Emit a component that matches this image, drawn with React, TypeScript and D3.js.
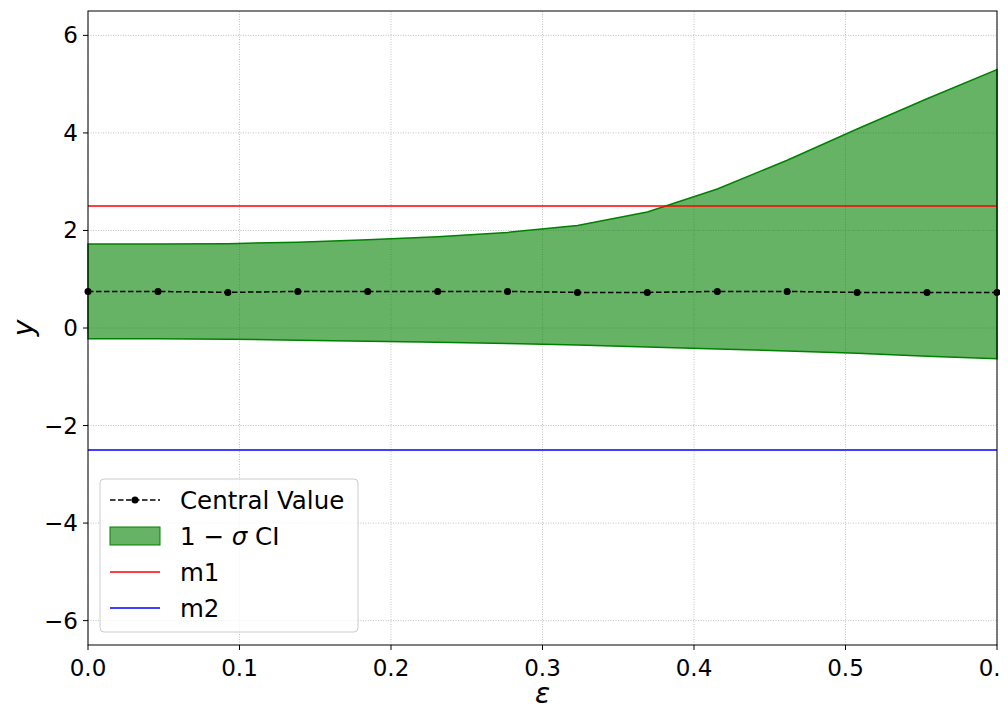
import { useEffect, useRef } from 'react'
import * as d3 from 'd3'

const xs = [0, 0.0462, 0.0923, 0.1385, 0.1846, 0.2308, 0.2769, 0.3231, 0.3692, 0.4154, 0.4615, 0.5077, 0.5538, 0.6]
const central = [0.75, 0.75, 0.73, 0.75, 0.75, 0.75, 0.75, 0.73, 0.73, 0.75, 0.75, 0.73, 0.73, 0.73]
const upper = [1.72, 1.72, 1.73, 1.76, 1.81, 1.87, 1.96, 2.1, 2.38, 2.85, 3.44, 4.08, 4.7, 5.3]
const lower = [-0.22, -0.22, -0.23, -0.25, -0.27, -0.29, -0.32, -0.35, -0.39, -0.43, -0.47, -0.52, -0.58, -0.63]
const xTicks = [0, 0.1, 0.2, 0.3, 0.4, 0.5, 0.6]
const yTicks = [-6, -4, -2, 0, 2, 4, 6]
const m1 = 2.5
const m2 = -2.5

export default function App() {
  const ref = useRef<SVGSVGElement>(null)

  useEffect(() => {
    if (!ref.current) return
    const svg = d3.select(ref.current)
    svg.selectAll('*').remove()
    const margin = { left: 88, top: 11, right: 11, bottom: 75 }
    const W = 1008, H = 720
    const x = d3.scaleLinear().domain([0, 0.6]).range([margin.left, W - margin.right])
    const y = d3.scaleLinear().domain([-6.5, 6.5]).range([H - margin.bottom, margin.top])
    const font = 'DejaVu Sans'

    const g = svg.append('g')
    // grid
    xTicks.forEach(t => g.append('line').attr('x1', x(t)).attr('x2', x(t)).attr('y1', y(-6.5)).attr('y2', y(6.5))
      .attr('stroke', '#b0b0b0').attr('stroke-width', 0.8).attr('stroke-dasharray', '1,1.5'))
    yTicks.forEach(t => g.append('line').attr('y1', y(t)).attr('y2', y(t)).attr('x1', x(0)).attr('x2', x(0.6))
      .attr('stroke', '#b0b0b0').attr('stroke-width', 0.8).attr('stroke-dasharray', '1,1.5'))

    const idx = d3.range(xs.length)
    const area = d3.area<number>().x(i => x(xs[i])).y0(i => y(lower[i])).y1(i => y(upper[i]))
    g.append('path').attr('d', area(idx)).attr('fill', 'green').attr('fill-opacity', 0.6)
      .attr('stroke', 'green').attr('stroke-width', 1.5)

    g.append('line').attr('x1', x(0)).attr('x2', x(0.6)).attr('y1', y(m1)).attr('y2', y(m1)).attr('stroke', 'red').attr('stroke-width', 1.5)
    g.append('line').attr('x1', x(0)).attr('x2', x(0.6)).attr('y1', y(m2)).attr('y2', y(m2)).attr('stroke', 'blue').attr('stroke-width', 1.5)

    const line = d3.line<number>().x(i => x(xs[i])).y(i => y(central[i]))
    g.append('path').attr('d', line(idx)).attr('fill', 'none').attr('stroke', 'black').attr('stroke-width', 1.5).attr('stroke-dasharray', '5.5,2.5')
    g.selectAll('circle.c').data(idx).enter().append('circle').attr('cx', i => x(xs[i])).attr('cy', i => y(central[i])).attr('r', 3.5).attr('fill', 'black')

    // frame
    g.append('rect').attr('x', x(0)).attr('y', y(6.5)).attr('width', x(0.6) - x(0)).attr('height', y(-6.5) - y(6.5))
      .attr('fill', 'none').attr('stroke', 'black').attr('stroke-width', 1)

    xTicks.forEach(t => {
      g.append('line').attr('x1', x(t)).attr('x2', x(t)).attr('y1', y(-6.5)).attr('y2', y(-6.5) + 5).attr('stroke', 'black')
      g.append('text').attr('x', x(t)).attr('y', y(-6.5) + 31).attr('text-anchor', 'middle').attr('font-family', font).attr('font-size', 23).text(d3.format('.1f')(t))
    })
    yTicks.forEach(t => {
      g.append('line').attr('x1', x(0) - 5).attr('x2', x(0)).attr('y1', y(t)).attr('y2', y(t)).attr('stroke', 'black')
      g.append('text').attr('x', x(0) - 10).attr('y', y(t) + 8).attr('text-anchor', 'end').attr('font-family', font).attr('font-size', 23).text(t < 0 ? `\u2212${-t}` : `${t}`)
    })
    g.append('text').attr('x', x(0.3)).attr('y', 703).attr('text-anchor', 'middle').attr('font-family', font).attr('font-style', 'italic').attr('font-size', 28).text('ε')
    g.append('text').attr('transform', `translate(33,${y(0)}) rotate(-90)`).attr('text-anchor', 'middle').attr('font-family', font).attr('font-style', 'italic').attr('font-size', 28).text('y')

    // legend
    const lg = g.append('g').attr('transform', 'translate(100,479)')
    lg.append('rect').attr('width', 258).attr('height', 153).attr('rx', 4).attr('fill', 'white').attr('fill-opacity', 0.8).attr('stroke', '#ccc')
    const rows = [21, 57, 93, 129]
    lg.append('line').attr('x1', 10).attr('x2', 60).attr('y1', rows[0]).attr('y2', rows[0]).attr('stroke', 'black').attr('stroke-width', 1.5).attr('stroke-dasharray', '5.5,2.5')
    lg.append('circle').attr('cx', 35).attr('cy', rows[0]).attr('r', 3.5).attr('fill', 'black')
    lg.append('rect').attr('x', 10).attr('y', rows[1] - 9).attr('width', 50).attr('height', 18).attr('fill', 'green').attr('fill-opacity', 0.6).attr('stroke', 'green')
    lg.append('line').attr('x1', 10).attr('x2', 60).attr('y1', rows[2]).attr('y2', rows[2]).attr('stroke', 'red').attr('stroke-width', 1.5)
    lg.append('line').attr('x1', 10).attr('x2', 60).attr('y1', rows[3]).attr('y2', rows[3]).attr('stroke', 'blue').attr('stroke-width', 1.5)
    const rowText = (i: number) => lg.append('text').attr('x', 80).attr('y', rows[i] + 9).attr('font-family', font).attr('font-size', 24.5)
    rowText(0).text('Central Value')
    const t1 = rowText(1)
    t1.append('tspan').text('1 − ')
    t1.append('tspan').attr('font-style', 'italic').text('σ')
    t1.append('tspan').text(' CI')
    rowText(2).text('m1')
    rowText(3).text('m2')
  }, [])

  return <svg ref={ref} width={1008} height={720} style={{ display: 'block', margin: -8 }} />
}
